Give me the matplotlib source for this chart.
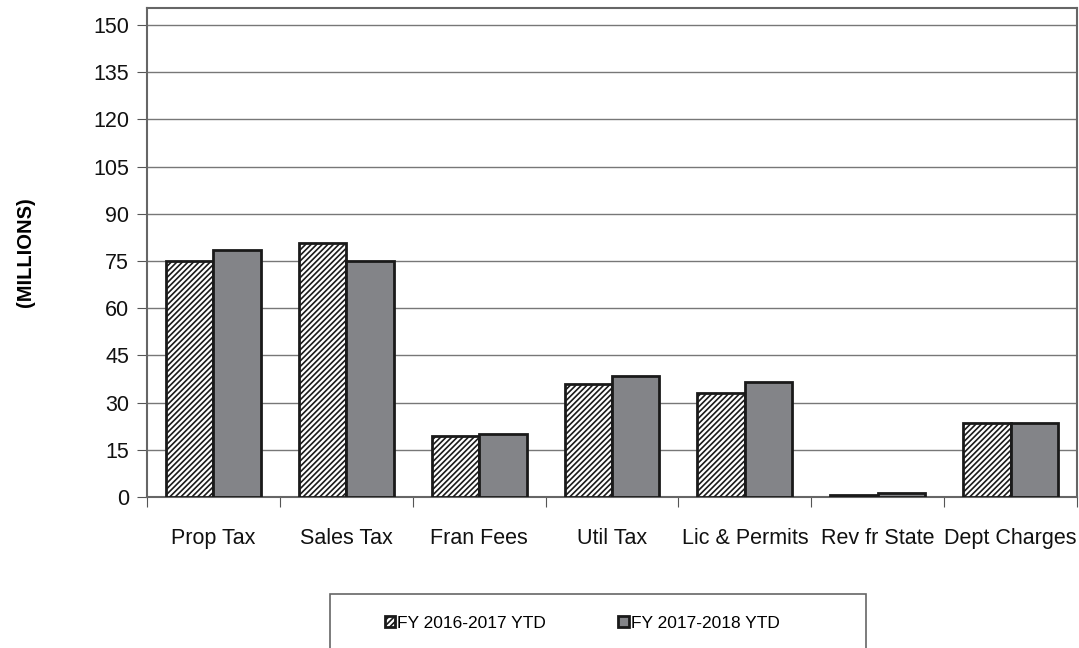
import numpy as np
import matplotlib.pyplot as plt
from matplotlib.patches import Rectangle

plt.rcParams['font.family'] = ['Liberation Sans', 'DejaVu Sans']
plt.rcParams['hatch.linewidth'] = 1.2

categories = ['Prop Tax', 'Sales Tax', 'Fran Fees', 'Util Tax',
              'Lic & Permits', 'Rev fr State', 'Dept Charges']
fy2017 = [75.0, 80.6, 19.5, 36.0, 33.0, 0.5, 23.5]
fy2018 = [78.5, 75.0, 20.0, 38.5, 36.5, 1.2, 23.5]
series_names = ['FY 2016-2017 YTD', 'FY 2017-2018 YTD']
yticks = list(range(0, 151, 15))

fig = plt.figure(figsize=(10.79, 6.48), dpi=100)
ax = fig.add_axes([147/1079, 1-497/648, 930/1079, 489/648])

x = np.arange(len(categories))
w = 0.357
ax.bar(x - w/2, fy2017, w, color='white', edgecolor='#1a1a1a', hatch='//////',
       linewidth=2, label=series_names[0], zorder=3)
ax.bar(x + w/2, fy2018, w, color='#838488', edgecolor='#1a1a1a',
       linewidth=2, label=series_names[1], zorder=3)

ax.set_xlim(-0.5, len(categories) - 0.5)
ax.set_ylim(0, 155.4)
ax.set_yticks(yticks)
ax.set_yticklabels([str(t) for t in yticks], fontsize=15.5, color='#111111')
ax.yaxis.grid(True, color='#777777', linewidth=1)
ax.set_axisbelow(True)

ax.set_xticks(np.arange(len(categories) + 1) - 0.5)
ax.set_xticklabels([])
ax.set_xticks(x, minor=True)
ax.set_xticklabels(categories, minor=True, fontsize=15.5, color='#111111')
ax.tick_params(axis='x', which='minor', length=0, pad=22)
ax.tick_params(axis='x', which='major', length=7, color='#555555', direction='out')
ax.tick_params(axis='y', length=7, color='#555555', direction='out', pad=6)

for s in ax.spines.values():
    s.set_color('#666666')
    s.set_linewidth(1.5)

ax.set_ylabel('(MILLIONS)', fontsize=14.5, fontweight='bold')
ax.yaxis.set_label_coords(-112/930, 0.5)

# legend box
fig.patches.append(Rectangle((330/1079, -0.05), 536/1079, 0.05 + 1 - 594/648,
                             transform=fig.transFigure, facecolor='white',
                             edgecolor='#666666', linewidth=1.2))
h, l = ax.get_legend_handles_labels()
fig.legend(h, l, loc='center', bbox_to_anchor=(582/1079, 1 - 623/648),
           ncol=2, frameon=False, fontsize=12.5, handlelength=0.6,
           handleheight=0.6, handletextpad=0.1, columnspacing=4.2)

fig.savefig('out.png', dpi=100)
